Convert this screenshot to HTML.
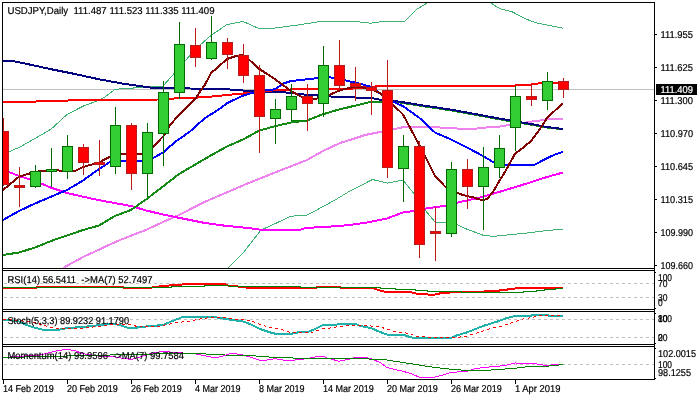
<!DOCTYPE html>
<html lang="en"><head><meta charset="utf-8"><title>USDJPY Daily</title>
<style>html,body{margin:0;padding:0;background:#fff;overflow:hidden}svg{display:block}text{font-family:'Liberation Sans', sans-serif;font-size:10px;fill:#000;stroke:#000;stroke-width:0.2px;text-rendering:geometricPrecision}</style>
</head><body>
<svg width="700" height="400" viewBox="0 0 700 400">
<rect width="700" height="400" fill="#fff"/>
<defs><clipPath id="cm"><rect x="3" y="3" width="651" height="265"/></clipPath><clipPath id="c1"><rect x="3" y="271" width="651" height="38"/></clipPath><clipPath id="c2"><rect x="3" y="312" width="651" height="32"/></clipPath><clipPath id="c3"><rect x="3" y="347" width="651" height="32"/></clipPath></defs>
<g clip-path="url(#cm)" shape-rendering="crispEdges" fill="none" stroke-linejoin="round">
<rect x="3" y="89" width="651" height="1" fill="#c0c0c0"/>
<polyline points="3,153 9,151.7 19,147.5 35,138.5 51,129.2 67,114.5 83,106.2 99,100.2 105,96.8 115,89.3 131,88.2 147,87 163,86 179,68 195,49.5 211,35.5 227,24.5 243,21.5 259,28.5 275,28 298,25 322,21.2 350,21.2 360,22 371,23.2 384,21.2 404,22 417.5,8.7 429,2 440,-8 480,-8 490,2.5 500,8.7 512.5,12 525,18.7 535,22.5 547,25 563,28.2" stroke="#3cb371" stroke-width="1"/>
<polyline points="222,275 228,268 242.5,253.7 261,230 275,223.7 291,216.2 307.5,215 335,200 350,191 372.5,179.5 387.5,183.2 403,180 414,193.7 425,210 435,222 446,222 457,224.7 467,229.2 483,235.2 493,236.4 505,235.2 525,233.2 547,230.5 563,229.2" stroke="#3cb371" stroke-width="1"/>
<polyline points="63,268 83,257 99,249.7 105,246.7 120,240 147,229.5 163,222 179,215 205,201.7 250,182.5 275,172.5 307,160 323,151 340,143 350,140 365,135 385,131 403,127.2 440,127.5 460,128.7 475,128.7 483,127.7 500,126.5 531,121.7 547,119.5 563,118.7" stroke="#ee82ee" stroke-width="2"/>
<polyline points="3,170 9,172 19,176 35,181 51,187.7 67,193 83,196.7 99,200.2 131,206 147,210.7 163,214.5 179,217.8 205,223 225,225.7 250,228.2 262,230 300,229.7 307,227.8 325,227 350,225 370,222 387,218.5 403,212.5 414,211 425,208.7 435,207.2 445,205.7 460,202 467,200.5 483,196.8 499,192 515,187.2 531,182.2 547,177 563,172.5" stroke="#ff00ff" stroke-width="2"/>
<polyline points="3,255 19,252.5 35,247.5 51,241 67,235.5 83,230 99,225.5 115,216 131,210 147,198.7 163,186.5 179,174 195,164.7 211,155.3 227,146.5 243,139.5 259,130.7 275,126.2 291,122.5 307,120.5 323,114.2 339,109.5 355,105.7 371,101.7 387,101.5 395,101.7 420,105.7 450,110.2 475,114.7 500,119.4 531,124.7 547,127.5 563,129.3" stroke="#138a13" stroke-width="2"/>
<polyline points="3,60.5 12,61 25,63.5 50,69 75,74 100,79.5 125,84 150,87.5 165,88 200,88.7 227,89.3 243,90.5 290,92.7 300,94.2 340,97.2 355,97.5 371,98 380,99.7 395,101 420,105 450,109.5 475,114 500,118.7 531,124 547,127 563,129" stroke="#000080" stroke-width="2"/>
<polyline points="3,101.5 36,101.5 37,101 67,101 68,100.5 100,99.8 160,99.5 170,98.7 205,97.2 227,95 243,93.5 253,92.7 275,90.2 290,89.5 345,89.3 371,86.7 385,86 470,85.7 515,85.7 516,84.5 531,84.5 532,83.8 555,82.7 563,82.5" stroke="#ff0000" stroke-width="2"/>
<polyline points="3,220 19,211 35,203.5 51,196.7 67,190 83,180.5 99,169 110,162 115,161.5 131,161.2 147,161.2 155,157 163,152.5 175,142 190,131.5 205,118 218,110 227,103.2 243,95.7 253,92.7 265,90.5 275,89.3 283,83.7 291,81 307,79.3 323,77.4 330,77.4 339,78.5 350,81.5 360,83.7 371,87 380,93.5 387,98 393,101.7 403,106.2 419,117.5 435,132.5 451,139.5 467,147.5 483,156 493,162 499,164 505,164.5 515,165.4 531,165.4 535,164.5 547,158.2 555,154.5 563,151.8" stroke="#0000ff" stroke-width="2"/>
<polyline points="3,190 19,176.7 35,171.8 51,170 67,171 75,171 83,167 99,162.5 115,154 131,154 147,154 157,142.7 165,134.5 170,125 179,115 190,104 195,99.5 200,91.5 205,84.5 211,73.2 227,59 237,55.7 243,55 250,60.5 259,68.7 275,79.2 291,91 300,96 307,99 315,99 323,97 330,94.5 339,90.7 350,87.7 355,86.5 365,87.7 371,89 380,93 387,99 393,104.7 403,114.5 411,129.5 419,144.5 425,155.7 435,176 445,186.5 451,190 460,194 467,196.2 475,197.7 478,199.2 483,200 487,199 493,192 499,181.5 505,172 515,153.7 523,147.7 531,141 540,129 547,118 555,110.5 563,103.3" stroke="#800000" stroke-width="2"/>
<rect x="291" y="120" width="17" height="1" fill="#008000"/>
<rect x="3" y="118" width="1" height="68" fill="#b81c1c"/>
<rect x="-2" y="131" width="11" height="54" fill="#b81c1c"/>
<rect x="-1" y="132" width="9" height="52" fill="#ff0000"/>
<rect x="19" y="167" width="1" height="40" fill="#b81c1c"/>
<rect x="14" y="185" width="11" height="3" fill="#b81c1c"/>
<rect x="15" y="186" width="9" height="1" fill="#ff0000"/>
<rect x="35" y="165" width="1" height="23" fill="#006a00"/>
<rect x="30" y="171" width="11" height="16" fill="#006a00"/>
<rect x="31" y="172" width="9" height="14" fill="#32cd32"/>
<rect x="51" y="148" width="1" height="39" fill="#006a00"/>
<rect x="46" y="169" width="11" height="3" fill="#006a00"/>
<rect x="47" y="170" width="9" height="1" fill="#32cd32"/>
<rect x="67" y="135" width="1" height="44" fill="#006a00"/>
<rect x="62" y="146" width="11" height="26" fill="#006a00"/>
<rect x="63" y="147" width="9" height="24" fill="#32cd32"/>
<rect x="83" y="144" width="1" height="31" fill="#b81c1c"/>
<rect x="78" y="147" width="11" height="16" fill="#b81c1c"/>
<rect x="79" y="148" width="9" height="14" fill="#ff0000"/>
<rect x="99" y="140" width="1" height="36" fill="#b81c1c"/>
<rect x="94" y="162" width="11" height="3" fill="#b81c1c"/>
<rect x="95" y="163" width="9" height="1" fill="#ff0000"/>
<rect x="115" y="107" width="1" height="67" fill="#006a00"/>
<rect x="110" y="125" width="11" height="42" fill="#006a00"/>
<rect x="111" y="126" width="9" height="40" fill="#32cd32"/>
<rect x="131" y="123" width="1" height="67" fill="#b81c1c"/>
<rect x="126" y="125" width="11" height="49" fill="#b81c1c"/>
<rect x="127" y="126" width="9" height="47" fill="#ff0000"/>
<rect x="147" y="123" width="1" height="74" fill="#006a00"/>
<rect x="142" y="132" width="11" height="42" fill="#006a00"/>
<rect x="143" y="133" width="9" height="40" fill="#32cd32"/>
<rect x="163" y="81" width="1" height="85" fill="#006a00"/>
<rect x="158" y="92" width="11" height="42" fill="#006a00"/>
<rect x="159" y="93" width="9" height="40" fill="#32cd32"/>
<rect x="179" y="22" width="1" height="77" fill="#006a00"/>
<rect x="174" y="44" width="11" height="49" fill="#006a00"/>
<rect x="175" y="45" width="9" height="47" fill="#32cd32"/>
<rect x="195" y="28" width="1" height="39" fill="#b81c1c"/>
<rect x="190" y="45" width="11" height="13" fill="#b81c1c"/>
<rect x="191" y="46" width="9" height="11" fill="#ff0000"/>
<rect x="211" y="16" width="1" height="44" fill="#006a00"/>
<rect x="206" y="42" width="11" height="17" fill="#006a00"/>
<rect x="207" y="43" width="9" height="15" fill="#32cd32"/>
<rect x="227" y="38" width="1" height="31" fill="#b81c1c"/>
<rect x="222" y="42" width="11" height="13" fill="#b81c1c"/>
<rect x="223" y="43" width="9" height="11" fill="#ff0000"/>
<rect x="243" y="44" width="1" height="39" fill="#b81c1c"/>
<rect x="238" y="55" width="11" height="21" fill="#b81c1c"/>
<rect x="239" y="56" width="9" height="19" fill="#ff0000"/>
<rect x="259" y="65" width="1" height="88" fill="#b81c1c"/>
<rect x="254" y="75" width="11" height="42" fill="#b81c1c"/>
<rect x="255" y="76" width="9" height="40" fill="#ff0000"/>
<rect x="275" y="99" width="1" height="45" fill="#006a00"/>
<rect x="270" y="109" width="11" height="10" fill="#006a00"/>
<rect x="271" y="110" width="9" height="8" fill="#32cd32"/>
<rect x="291" y="84" width="1" height="37" fill="#006a00"/>
<rect x="286" y="96" width="11" height="14" fill="#006a00"/>
<rect x="287" y="97" width="9" height="12" fill="#32cd32"/>
<rect x="307" y="84" width="1" height="47" fill="#b81c1c"/>
<rect x="302" y="96" width="11" height="8" fill="#b81c1c"/>
<rect x="303" y="97" width="9" height="6" fill="#ff0000"/>
<rect x="323" y="46" width="1" height="71" fill="#006a00"/>
<rect x="318" y="65" width="11" height="39" fill="#006a00"/>
<rect x="319" y="66" width="9" height="37" fill="#32cd32"/>
<rect x="339" y="40" width="1" height="50" fill="#b81c1c"/>
<rect x="334" y="65" width="11" height="21" fill="#b81c1c"/>
<rect x="335" y="66" width="9" height="19" fill="#ff0000"/>
<rect x="355" y="67" width="1" height="34" fill="#b81c1c"/>
<rect x="350" y="83" width="11" height="4" fill="#b81c1c"/>
<rect x="351" y="84" width="9" height="2" fill="#ff0000"/>
<rect x="371" y="82" width="1" height="33" fill="#b81c1c"/>
<rect x="366" y="87" width="11" height="4" fill="#b81c1c"/>
<rect x="367" y="88" width="9" height="2" fill="#ff0000"/>
<rect x="387" y="60" width="1" height="118" fill="#b81c1c"/>
<rect x="382" y="90" width="11" height="78" fill="#b81c1c"/>
<rect x="383" y="91" width="9" height="76" fill="#ff0000"/>
<rect x="403" y="135" width="1" height="67" fill="#006a00"/>
<rect x="398" y="146" width="11" height="23" fill="#006a00"/>
<rect x="399" y="147" width="9" height="21" fill="#32cd32"/>
<rect x="419" y="141" width="1" height="117" fill="#b81c1c"/>
<rect x="414" y="146" width="11" height="99" fill="#b81c1c"/>
<rect x="415" y="147" width="9" height="97" fill="#ff0000"/>
<rect x="435" y="207" width="1" height="54" fill="#b81c1c"/>
<rect x="430" y="231" width="11" height="3" fill="#b81c1c"/>
<rect x="431" y="232" width="9" height="1" fill="#ff0000"/>
<rect x="451" y="162" width="1" height="75" fill="#006a00"/>
<rect x="446" y="169" width="11" height="65" fill="#006a00"/>
<rect x="447" y="170" width="9" height="63" fill="#32cd32"/>
<rect x="467" y="159" width="1" height="50" fill="#b81c1c"/>
<rect x="462" y="169" width="11" height="18" fill="#b81c1c"/>
<rect x="463" y="170" width="9" height="16" fill="#ff0000"/>
<rect x="483" y="147" width="1" height="83" fill="#006a00"/>
<rect x="478" y="167" width="11" height="20" fill="#006a00"/>
<rect x="479" y="168" width="9" height="18" fill="#32cd32"/>
<rect x="499" y="135" width="1" height="43" fill="#006a00"/>
<rect x="494" y="148" width="11" height="20" fill="#006a00"/>
<rect x="495" y="149" width="9" height="18" fill="#32cd32"/>
<rect x="515" y="86" width="1" height="65" fill="#006a00"/>
<rect x="510" y="96" width="11" height="32" fill="#006a00"/>
<rect x="511" y="97" width="9" height="30" fill="#32cd32"/>
<rect x="531" y="84" width="1" height="22" fill="#b81c1c"/>
<rect x="526" y="96" width="11" height="4" fill="#b81c1c"/>
<rect x="527" y="97" width="9" height="2" fill="#ff0000"/>
<rect x="547" y="72" width="1" height="38" fill="#006a00"/>
<rect x="542" y="81" width="11" height="20" fill="#006a00"/>
<rect x="543" y="82" width="9" height="18" fill="#32cd32"/>
<rect x="563" y="78" width="1" height="20" fill="#b81c1c"/>
<rect x="558" y="81" width="11" height="9" fill="#b81c1c"/>
<rect x="559" y="82" width="9" height="7" fill="#ff0000"/>
</g>
<line x1="3" y1="283.5" x2="654" y2="283.5" stroke="#c0c0c0" stroke-width="1" stroke-dasharray="3,3" stroke-dashoffset="5" shape-rendering="crispEdges"/>
<line x1="3" y1="297.5" x2="654" y2="297.5" stroke="#c0c0c0" stroke-width="1" stroke-dasharray="3,3" stroke-dashoffset="5" shape-rendering="crispEdges"/>
<g clip-path="url(#c1)" shape-rendering="crispEdges" fill="none">
<polyline points="3,288 36,288 37,287 123,287 124,288 148,288 163,286 180,284.6 195,284 225,284 228,285.6 243,287 250,288 316,288 317,287 340,287 341,288 372,288 384,291.6 408,291.6 420,294.4 435,294.6 440,293.4 451,292.4 460,292 483,292 485,291 499,291 500,289.6 507,289.6 508,288.6 515,288.6 517,287.6 563,287.6" stroke="#ff0000" stroke-width="2"/>
<polyline points="3,287.5 171,287.5 172,286.5 204,286.5 205,285.5 229,285.5 230,286.5 300,286.5 301,287.5 380,287.5 381,288.5 395,288.5 396,289.5 415,289.5 416,290.5 427,290.5 428,291.5 461,291.5 462,292.5 523,292.5 524,291.5 536,291.5 537,290.5 544,290.5 545,289.5 555,289.5 556,288.5 563,288.5" stroke="#008000" stroke-width="1"/>
</g>
<line x1="3" y1="319.5" x2="654" y2="319.5" stroke="#c0c0c0" stroke-width="1" stroke-dasharray="3,3" stroke-dashoffset="5" shape-rendering="crispEdges"/>
<line x1="3" y1="337.5" x2="654" y2="337.5" stroke="#c0c0c0" stroke-width="1" stroke-dasharray="3,3" stroke-dashoffset="5" shape-rendering="crispEdges"/>
<g clip-path="url(#c2)" shape-rendering="crispEdges" fill="none">
<polyline points="3,319.5 10,320 19,321.5 27,325.2 35,327.8 43,329.7 59,329.7 67,328.2 75,327.5 83,327 99,325.2 107,324 115,324 123,326 128,328 135,328 140,327 163,325 170,322 180,318 183,316.6 211,316.6 220,318 235,320.4 243,321.5 250,324 260,329 270,332.4 275,333.6 292,333.6 300,332 308,332 315,329 323,325 340,324.4 345,323.6 355,323.6 360,326 371,328 380,332 387,334.6 403,334.6 410,337 416,338.4 435,338.4 437,338 451,338 455,336 467,332.4 483,326 499,321 507,318 515,316 531,316 533,314.6 547,314.6 549,316 563,316" stroke="#20b2aa" stroke-width="2"/>
<polyline points="3,319.2 19,320.5 35,322.5 43,325.2 51,327.2 60,328.7 67,329 75,328.2 83,328 91,327.2 99,326.4 105,325.2 115,324.4 123,324.4 131,325 140,327 160,326 175,323 190,321 200,319 210,317.6 225,317.6 235,319 243,319.5 250,320.4 260,324.4 270,327.4 280,329 287,331.6 291,332.6 300,332.6 307,333 315,331.6 323,328.6 330,328 339,326.6 350,325.6 355,325 363,325.6 371,326 378,326.4 387,329 395,331.6 403,332.4 410,334 416,336 420,336.6 425,337 435,337.6 451,338 460,337 467,336 475,333.6 483,331 490,328.6 499,327 507,324.4 515,321.6 523,319 531,317.6 539,316 547,315.4 563,315.4" stroke="#ff0000" stroke-width="1" stroke-dasharray="3,3"/>
</g>
<line x1="3" y1="364.5" x2="654" y2="364.5" stroke="#c0c0c0" stroke-width="1" stroke-dasharray="3,3" stroke-dashoffset="5" shape-rendering="crispEdges"/>
<g clip-path="url(#c3)" shape-rendering="crispEdges" fill="none">
<polyline points="3,357.5 40,355 55,351.2 67,349.2 75,350.7 83,353.7 99,356.2 115,357 131,359.5 140,357 150,353.7 163,351.2 175,352.5 195,353.7 203,355.5 211,357 219,357 225,355.5 230,353.7 235,353.7 243,355 250,357 259,360 267,360 275,358.7 283,360 295,360 307,358.7 315,357 323,356.2 327,358 339,361.2 347,359.5 350,359 355,357.5 365,357.5 371,358.7 380,362.5 387,367.5 395,369.5 403,371.2 411,373.7 419,377 435,377 443,375 451,372.5 467,371.2 475,368.7 483,367.5 499,366.2 507,365 515,363 525,363.2 535,363.7 543,365 551,365 555,364.5 563,364.2" stroke="#ff00ff" stroke-width="1"/>
<polyline points="3,357.5 175,353.5 200,353.7 225,355 250,355.5 275,357.5 300,358.2 325,358.7 350,358.7 360,358 371,359.2 387,360 403,362.5 419,365 435,367.5 451,369.2 467,370.5 483,370.5 499,369.5 515,368.2 525,367 547,366.2 555,365.5 563,364.5" stroke="#008000" stroke-width="1"/>
</g>
<g shape-rendering="crispEdges" fill="#000">
<rect x="2" y="2" width="653" height="1"/>
<rect x="2" y="268" width="653" height="1"/>
<rect x="2" y="270" width="653" height="1"/>
<rect x="2" y="309" width="653" height="1"/>
<rect x="2" y="311" width="653" height="1"/>
<rect x="2" y="344" width="653" height="1"/>
<rect x="2" y="346" width="653" height="1"/>
<rect x="2" y="379" width="653" height="1"/>
<rect x="2" y="2" width="1" height="378"/>
<rect x="654" y="2" width="1" height="378"/>
<rect x="655" y="34" width="2" height="1"/>
<rect x="655" y="67" width="2" height="1"/>
<rect x="655" y="100" width="2" height="1"/>
<rect x="655" y="133" width="2" height="1"/>
<rect x="655" y="166" width="2" height="1"/>
<rect x="655" y="199" width="2" height="1"/>
<rect x="655" y="232" width="2" height="1"/>
<rect x="655" y="265" width="2" height="1"/>
<rect x="655" y="272" width="1" height="1"/>
<rect x="655" y="308" width="1" height="1"/>
<rect x="655" y="313" width="1" height="1"/>
<rect x="655" y="343" width="1" height="1"/>
<rect x="655" y="348" width="1" height="1"/>
<rect x="655" y="378" width="1" height="1"/>
<rect x="3" y="380" width="1" height="4"/>
<rect x="67" y="380" width="1" height="4"/>
<rect x="131" y="380" width="1" height="4"/>
<rect x="195" y="380" width="1" height="4"/>
<rect x="259" y="380" width="1" height="4"/>
<rect x="323" y="380" width="1" height="4"/>
<rect x="387" y="380" width="1" height="4"/>
<rect x="451" y="380" width="1" height="4"/>
<rect x="515" y="380" width="1" height="4"/>
<rect x="656" y="84" width="41" height="11"/>
</g>
<text x="7.5" y="14" textLength="207" lengthAdjust="spacingAndGlyphs" xml:space="preserve">USDJPY,Daily  111.487 111.523 111.335 111.409</text>
<text x="7.5" y="283" textLength="145" lengthAdjust="spacingAndGlyphs" xml:space="preserve">RSI(14) 56.5411  -&gt;MA(7) 52.7497</text>
<text x="7.5" y="324" textLength="121.5" lengthAdjust="spacingAndGlyphs" xml:space="preserve">Stoch(5,3,3) 89.9232 91.1790</text>
<text x="7.5" y="359" textLength="176.5" lengthAdjust="spacingAndGlyphs" xml:space="preserve">Momentum(14) 99.9596  -&gt;MA(7) 99.7584</text>
<text x="660.5" y="38" textLength="32.5" lengthAdjust="spacingAndGlyphs" xml:space="preserve">111.955</text>
<text x="660.5" y="71" textLength="32.5" lengthAdjust="spacingAndGlyphs" xml:space="preserve">111.625</text>
<text x="660.5" y="104" textLength="32.5" lengthAdjust="spacingAndGlyphs" xml:space="preserve">111.300</text>
<text x="660.5" y="137" textLength="32.5" lengthAdjust="spacingAndGlyphs" xml:space="preserve">110.970</text>
<text x="660.5" y="170" textLength="32.5" lengthAdjust="spacingAndGlyphs" xml:space="preserve">110.645</text>
<text x="660.5" y="203" textLength="32.5" lengthAdjust="spacingAndGlyphs" xml:space="preserve">110.315</text>
<text x="660.5" y="236" textLength="32.5" lengthAdjust="spacingAndGlyphs" xml:space="preserve">109.990</text>
<text x="660.5" y="269" textLength="32.5" lengthAdjust="spacingAndGlyphs" xml:space="preserve">109.660</text>
<text x="660.5" y="93" textLength="32.5" lengthAdjust="spacingAndGlyphs" fill="#fff" style="fill:#fff;stroke:#fff" xml:space="preserve">111.409</text>
<text x="658" y="281" textLength="14" lengthAdjust="spacingAndGlyphs" xml:space="preserve">100</text>
<text x="658" y="287" textLength="9.5" lengthAdjust="spacingAndGlyphs" xml:space="preserve">70</text>
<text x="658" y="301" textLength="9.5" lengthAdjust="spacingAndGlyphs" xml:space="preserve">30</text>
<text x="658" y="306" textLength="4.7" lengthAdjust="spacingAndGlyphs" xml:space="preserve">0</text>
<text x="658" y="322" textLength="14" lengthAdjust="spacingAndGlyphs" xml:space="preserve">100</text>
<text x="658" y="322" textLength="9.5" lengthAdjust="spacingAndGlyphs" xml:space="preserve">80</text>
<text x="658" y="341" textLength="9.5" lengthAdjust="spacingAndGlyphs" xml:space="preserve">20</text>
<text x="658" y="341" textLength="4.7" lengthAdjust="spacingAndGlyphs" xml:space="preserve">0</text>
<text x="658" y="357" textLength="38" lengthAdjust="spacingAndGlyphs" xml:space="preserve">102.0015</text>
<text x="658" y="368" textLength="14" lengthAdjust="spacingAndGlyphs" xml:space="preserve">100</text>
<text x="658" y="376" textLength="33" lengthAdjust="spacingAndGlyphs" xml:space="preserve">98.1255</text>
<text x="3" y="392" textLength="50.7" lengthAdjust="spacingAndGlyphs" xml:space="preserve">14 Feb 2019</text>
<text x="67" y="392" textLength="50.7" lengthAdjust="spacingAndGlyphs" xml:space="preserve">20 Feb 2019</text>
<text x="131" y="392" textLength="50.7" lengthAdjust="spacingAndGlyphs" xml:space="preserve">26 Feb 2019</text>
<text x="195" y="392" textLength="45.5" lengthAdjust="spacingAndGlyphs" xml:space="preserve">4 Mar 2019</text>
<text x="259" y="392" textLength="45.5" lengthAdjust="spacingAndGlyphs" xml:space="preserve">8 Mar 2019</text>
<text x="323" y="392" textLength="50.7" lengthAdjust="spacingAndGlyphs" xml:space="preserve">14 Mar 2019</text>
<text x="387" y="392" textLength="50.7" lengthAdjust="spacingAndGlyphs" xml:space="preserve">20 Mar 2019</text>
<text x="451" y="392" textLength="50.7" lengthAdjust="spacingAndGlyphs" xml:space="preserve">26 Mar 2019</text>
<text x="515" y="392" textLength="45.5" lengthAdjust="spacingAndGlyphs" xml:space="preserve">1 Apr 2019</text>
</svg></body></html>
